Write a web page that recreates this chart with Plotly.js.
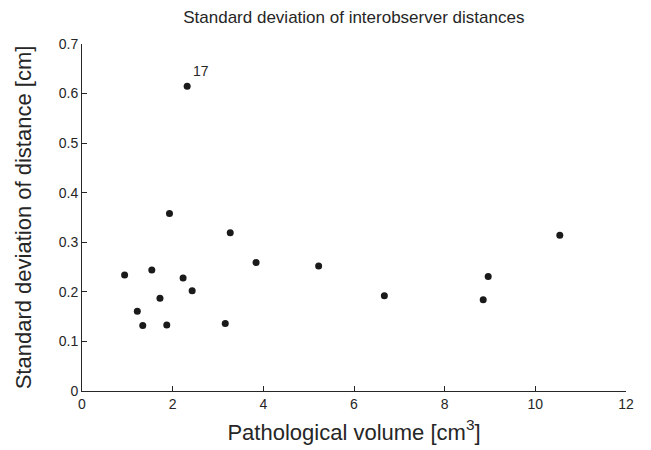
<!DOCTYPE html>
<html>
<head>
<meta charset="utf-8">
<script src="https://cdn.plot.ly/plotly-3.0.1.min.js"></script>
<style>html,body{margin:0;padding:0;background:#fff;}#chart{width:651px;height:450px;}</style>
</head>
<body>
<div id="chart"></div>
<script>
var volume = [2.32, 1.93, 3.27, 3.84, 5.22, 0.94, 1.54, 2.23, 2.43, 1.72, 1.22, 1.34, 1.87, 3.16, 6.67, 8.96, 8.85, 10.54];
var stdDist = [0.615, 0.358, 0.319, 0.259, 0.252, 0.234, 0.244, 0.228, 0.202, 0.187, 0.161, 0.132, 0.133, 0.136, 0.192, 0.231, 0.184, 0.314];
var labelText = "17";
var labelIndex = 0;

var trace = {
  x: volume, y: stdDist, mode: 'markers', type: 'scatter',
  marker: {color: '#1a1a1a', size: 7},
  hoverinfo: 'x+y'
};
var font = {family: 'Liberation Sans, Arial, sans-serif', color: '#262626'};
var layout = {
  width: 651, height: 450,
  margin: {l: 82, r: 25, t: 44, b: 59},
  paper_bgcolor: '#fff', plot_bgcolor: '#fff',
  showlegend: false,
  font: {family: font.family, size: 14, color: font.color},
  title: {text: 'Standard deviation of interobserver distances', font: {size: 17, color: font.color, family: font.family}, x: 0.5435, xanchor: 'center', y: 0.962, yanchor: 'middle'},
  xaxis: {
    range: [0, 12], tickvals: [0, 2, 4, 6, 8, 10, 12], ticks: 'inside', ticklen: 5, tickcolor: '#262626',
    showline: true, linecolor: '#262626', linewidth: 1, showgrid: false, zeroline: false,
    tickfont: {size: 14}, mirror: false,
    title: {text: 'Pathological volume [cm<sup>3</sup>]', font: {size: 22}, standoff: 13}
  },
  yaxis: {
    range: [0, 0.7], tickvals: [0, 0.1, 0.2, 0.3, 0.4, 0.5, 0.6, 0.7], ticktext: ['0','0.1','0.2','0.3','0.4','0.5','0.6','0.7'],
    ticks: 'inside', ticklen: 5, tickcolor: '#262626',
    showline: true, linecolor: '#262626', linewidth: 1, showgrid: false, zeroline: false,
    tickfont: {size: 14},
    title: {text: 'Standard deviation of distance [cm]', font: {size: 22}, standoff: 21}
  },
  annotations: [{
    x: volume[labelIndex], y: stdDist[labelIndex], text: labelText, showarrow: false,
    xanchor: 'left', yanchor: 'bottom', xshift: 4, yshift: 5, font: {size: 14, color: font.color}
  }]
};
Plotly.newPlot('chart', [trace], layout, {displayModeBar: false, staticPlot: true});
</script>
</body>
</html>
